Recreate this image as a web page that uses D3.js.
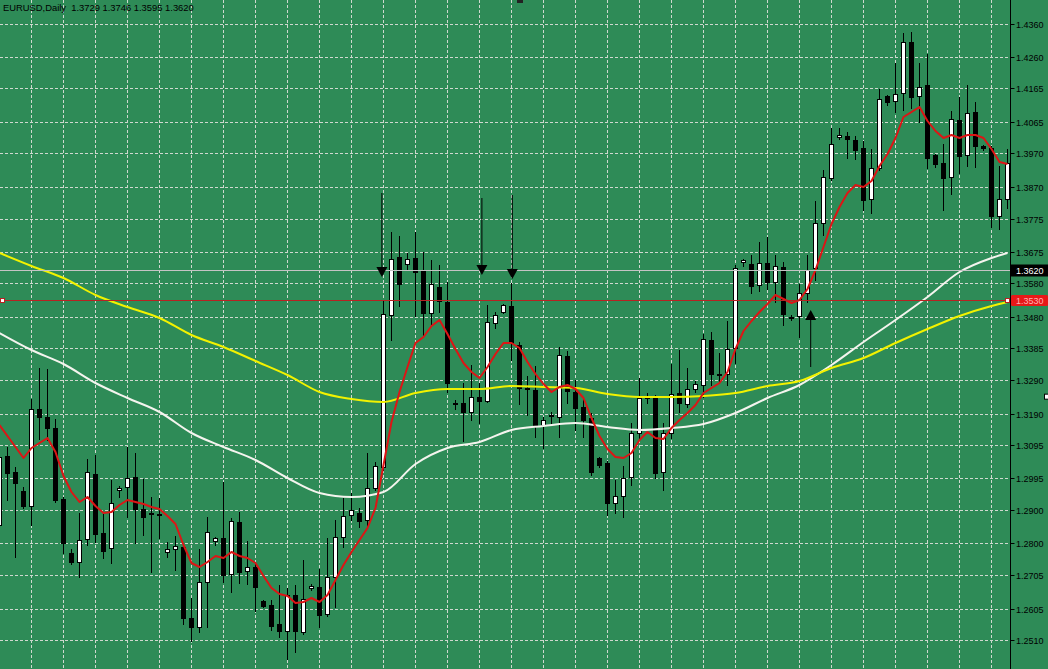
<!DOCTYPE html>
<html><head><meta charset="utf-8">
<script src="https://cdn.jsdelivr.net/npm/d3@7"></script>
<style>html,body{margin:0;padding:0;background:#2E8B57;overflow:hidden}</style>
</head><body><svg id="c" width="1048" height="669"></svg>
<script>
// ---- data ----
const title = "EURUSD,Daily  1.3729 1.3746 1.3595 1.3620";
const tickLabels = ["1.4360","1.4260","1.4165","1.4065","1.3970","1.3870","1.3775","1.3675","1.3580","1.3480",
  "1.3385","1.3290","1.3190","1.3095","1.2995","1.2900","1.2800","1.2705","1.2605","1.2510"];

const open = [1.2857,1.3064,1.3016,1.2959,1.2914,1.3205,1.3181,1.3148,1.2935,1.2773,
1.2746,1.2815,1.3010,1.2833,1.2788,1.2962,1.2971,1.3001,1.2905,1.2893,
1.2890,1.2776,1.2785,1.2791,1.2578,1.2551,1.2686,1.2809,1.2818,1.2710,
1.2866,1.2719,1.2731,1.2629,1.2617,1.2560,1.2539,1.2647,1.2536,1.2668,
1.2671,1.2590,1.2701,1.2821,1.2887,1.2893,1.2872,1.2968,1.3031,1.3487,
1.3661,1.3640,1.3658,1.3622,1.3493,1.3571,1.3526,1.3223,1.3223,1.3196,
1.3241,1.3229,1.3463,1.3496,1.3514,1.3397,1.3268,1.3262,1.3157,1.3184,
1.3181,1.3364,1.3256,1.3211,1.3178,1.3058,1.3043,1.2923,1.2944,1.3001,
1.3133,1.3241,1.3241,1.3016,1.3133,1.3253,1.3220,1.3265,1.3277,1.3412,
1.3310,1.3310,1.3388,1.3646,1.3640,1.3577,1.3643,1.3586,1.3631,1.3481,
1.3484,1.3553,1.3628,1.3763,1.3898,1.4021,1.4024,1.4012,1.3988,1.3835,
1.3928,1.4144,1.4129,1.4153,1.4306,1.4144,1.4177,1.3967,1.3943,1.3901,
1.4072,1.3967,1.4096,1.3994,1.3988,1.3784,1.3835];
const high = [1.3088,1.3091,1.3031,1.2971,1.3235,1.3328,1.3325,1.3175,1.2941,1.2785,
1.2893,1.3055,1.3067,1.2893,1.2992,1.2974,1.3091,1.3073,1.2995,1.2941,
1.2938,1.2806,1.2824,1.2797,1.2638,1.2785,1.2881,1.2821,1.2986,1.2878,
1.2896,1.2809,1.2746,1.2632,1.2632,1.2677,1.2668,1.2677,1.2752,1.2680,
1.2725,1.2818,1.2872,1.2938,1.2953,1.2908,1.3073,1.3046,1.3532,1.3736,
1.3724,1.3673,1.3736,1.3676,1.3652,1.3637,1.3586,1.3232,1.3283,1.3337,
1.3283,1.3517,1.3496,1.3520,1.3583,1.3406,1.3304,1.3334,1.3181,1.3196,
1.3391,1.3379,1.3292,1.3238,1.3193,1.3061,1.3049,1.2992,1.3034,1.3163,
1.3298,1.3253,1.3247,1.3163,1.3340,1.3382,1.3328,1.3289,1.3430,1.3436,
1.3373,1.3469,1.3637,1.3655,1.3667,1.3706,1.3721,1.3667,1.3646,1.3487,
1.3580,1.3667,1.3829,1.3922,1.4048,1.4048,1.4036,1.4024,1.4009,1.3985,
1.4165,1.4147,1.4243,1.4333,1.4336,1.4243,1.4270,1.3970,1.4000,1.4099,
1.4141,1.4177,1.4126,1.3997,1.3994,1.3934,1.3985];
const low = [1.2827,1.2932,1.2761,1.2908,1.2857,1.3115,1.3112,1.2926,1.2773,1.2740,
1.2701,1.2797,1.2806,1.2758,1.2743,1.2941,1.2881,1.2803,1.2827,1.2716,
1.2818,1.2761,1.2722,1.2560,1.2509,1.2536,1.2551,1.2797,1.2686,1.2656,
1.2683,1.2680,1.2599,1.2611,1.2542,1.2521,1.2455,1.2476,1.2530,1.2662,
1.2551,1.2584,1.2611,1.2791,1.2872,1.2851,1.2851,1.2962,1.3022,1.3412,
1.3514,1.3622,1.3484,1.3427,1.3457,1.3496,1.3256,1.3205,1.3109,1.3172,
1.3163,1.3226,1.3448,1.3493,1.3352,1.3220,1.3187,1.3121,1.3088,1.3163,
1.3121,1.3223,1.3142,1.3121,1.3007,1.3031,1.2887,1.2893,1.2881,1.2977,
1.3112,1.3223,1.2998,1.2962,1.3118,1.3196,1.3211,1.3256,1.3241,1.3277,
1.3283,1.3277,1.3343,1.3634,1.3553,1.3559,1.3565,1.3526,1.3457,1.3472,
1.3421,1.3526,1.3592,1.3727,1.3892,1.4015,1.3958,1.3955,1.3802,1.3793,
1.3922,1.4117,1.4096,1.4102,1.4108,1.4066,1.3928,1.3931,1.3802,1.3850,
1.3913,1.3934,1.3931,1.3982,1.3751,1.3745,1.3808];
const close = [1.3061,1.3013,1.2983,1.2914,1.3205,1.3181,1.3148,1.2932,1.2803,1.2746,
1.2812,1.3016,1.2830,1.2779,1.2923,1.2968,1.2998,1.2905,1.2881,1.2890,
1.2887,1.2785,1.2794,1.2578,1.2551,1.2686,1.2836,1.2818,1.2707,1.2869,
1.2716,1.2731,1.2671,1.2614,1.2554,1.2539,1.2647,1.2539,1.2635,1.2674,
1.2587,1.2701,1.2821,1.2884,1.2902,1.2869,1.2968,1.3034,1.3490,1.3655,
1.3580,1.3655,1.3616,1.3493,1.3580,1.3529,1.3283,1.3220,1.3196,1.3241,
1.3229,1.3466,1.3487,1.3517,1.3403,1.3268,1.3265,1.3157,1.3172,1.3187,
1.3367,1.3259,1.3208,1.3172,1.3016,1.3037,1.2923,1.2944,1.2998,1.3133,
1.3238,1.3238,1.3013,1.3133,1.3250,1.3223,1.3265,1.3280,1.3415,1.3310,
1.3307,1.3385,1.3628,1.3652,1.3574,1.3643,1.3586,1.3634,1.3490,1.3478,
1.3553,1.3622,1.3763,1.3901,1.4000,1.4027,1.4015,1.3982,1.3832,1.3928,
1.4135,1.4126,1.4150,1.4306,1.4141,1.4171,1.3958,1.3940,1.3898,1.4075,
1.3964,1.4093,1.3994,1.3988,1.3784,1.3835,1.3943];

const maRed = [1.3157,1.3124,1.3091,1.3058,1.3088,1.3103,1.3118,1.3076,1.3004,1.2956,
1.2926,1.2941,1.2914,1.2893,1.2896,1.2917,1.2932,1.2926,1.2920,1.2911,
1.2905,1.2884,1.2860,1.2797,1.2743,1.2731,1.2746,1.2764,1.2758,1.2776,
1.2764,1.2758,1.2743,1.2704,1.2668,1.2650,1.2644,1.2623,1.2626,1.2638,
1.2626,1.2647,1.2692,1.2737,1.2776,1.2812,1.2848,1.2908,1.3037,1.3166,
1.3256,1.3331,1.3403,1.3421,1.3454,1.3472,1.3430,1.3385,1.3343,1.3316,
1.3298,1.3331,1.3370,1.3403,1.3403,1.3388,1.3346,1.3310,1.3280,1.3256,
1.3271,1.3277,1.3265,1.3238,1.3178,1.3124,1.3085,1.3061,1.3058,1.3073,
1.3112,1.3136,1.3118,1.3115,1.3148,1.3172,1.3193,1.3217,1.3253,1.3268,
1.3283,1.3316,1.3385,1.3439,1.3469,1.3496,1.3520,1.3547,1.3535,1.3523,
1.3532,1.3565,1.3622,1.3691,1.3760,1.3811,1.3853,1.3877,1.3871,1.3889,
1.3934,1.3970,1.4018,1.4081,1.4096,1.4111,1.4069,1.4039,1.4018,1.4027,
1.4018,1.4027,1.4027,1.4018,1.3985,1.3946,1.3940];

// slow averages, read every 4th bar
const maBars = [0,4,8,12,16,20,24,28,32,36,40,44,48,52,56,60,64,68,72,76,80,84,88,92,96,100,104,108,112,116,120,124,126];
const maYellow = [1.3673,1.3634,1.3598,1.3547,1.3511,1.3478,1.3427,1.3391,1.3349,1.3307,1.3256,1.3235,1.3226,1.3253,1.3265,1.3265,1.3274,1.3271,1.3268,1.3250,1.3241,1.3241,1.3244,1.3253,1.3274,1.3289,1.3328,1.3358,1.3403,1.3445,1.3484,1.3514,1.3526];
const maWhite = [1.3433,1.3382,1.3340,1.3283,1.3238,1.3196,1.3133,1.3091,1.3052,1.2998,1.2953,1.2941,1.2956,1.3040,1.3088,1.3106,1.3142,1.3154,1.3163,1.3151,1.3142,1.3148,1.3160,1.3193,1.3238,1.3277,1.3337,1.3406,1.3472,1.3541,1.3616,1.3658,1.3673];

const downArrowBars = [47.8, 60.3, 64.1];
const downArrowTips = [1.3601, 1.3607, 1.3595];
const downArrowTops = [1.3853, 1.3838, 1.3847];
const upArrowBars = [101.4];
const upArrowTips = [1.3502];
const upArrowTails = [1.3331];

const bidPrice = 1.3620, bidLabel = "1.3620";
const hLinePrice = 1.3530, hLineLabel = "1.3530";

// ---- drawing ----
const W = 1048, H = 669, axisX = 1010.5;
const svg = d3.select("#c");
const x = d3.scaleLinear().domain([0, 126]).range([-0.5, 1007.5]);
const y = d3.scaleLinear().domain([1.4432, 1.2425]).range([0, 669]);
const snap = v => Math.floor(v) + 0.5;
const font = "'Liberation Sans', Arial, sans-serif";

svg.append("rect").attr("width", W).attr("height", H).attr("fill", "#2E8B57");

// grid
const g = svg.append("g").attr("stroke", "#cfd8cf").attr("stroke-width", 1).attr("stroke-dasharray", "3,2");
tickLabels.forEach(t => {
  const yy = snap(y(+t));
  g.append("line").attr("x1", 0).attr("x2", 1010).attr("y1", yy).attr("y2", yy);
});
d3.range(4, 127, 4).forEach(i => {
  g.append("line").attr("x1", x(i)).attr("x2", x(i)).attr("y1", 0).attr("y2", H);
});

// candles
const idx = d3.range(open.length);
const cg = svg.append("g");
idx.forEach(i => {
  const cx = x(i);
  cg.append("line").attr("x1", cx).attr("x2", cx)
    .attr("y1", Math.round(y(high[i]))).attr("y2", Math.round(y(low[i])) + 1)
    .attr("stroke", "#000").attr("stroke-width", 1);
  const top = Math.round(y(Math.max(open[i], close[i])));
  const bot = Math.round(y(Math.min(open[i], close[i])));
  const bull = close[i] >= open[i];
  cg.append("rect").attr("x", cx - 2).attr("width", 4)
    .attr("y", top + 0.5).attr("height", Math.max(0, bot - top))
    .attr("fill", bull ? "#fff" : "#000").attr("stroke", "#000").attr("stroke-width", 1);
});

// moving averages
const lineIdx = d3.line().x((v, i) => x(i)).y(v => y(v));
const lineSampled = d3.line().x((v, k) => x(maBars[k])).y(v => y(v)).curve(d3.curveMonotoneX);
svg.append("path").attr("d", lineSampled(maWhite)).attr("fill", "none").attr("stroke", "#f4f4ee").attr("stroke-width", 2);
svg.append("path").attr("d", lineSampled(maYellow)).attr("fill", "none").attr("stroke", "#f2f200").attr("stroke-width", 2);
svg.append("path").attr("d", lineIdx(maRed)).attr("fill", "none").attr("stroke", "#dd1515").attr("stroke-width", 2)
  .attr("stroke-linejoin", "round");

// horizontal lines
const yb = snap(y(bidPrice));
svg.append("line").attr("x1", 0).attr("x2", 1010).attr("y1", yb).attr("y2", yb).attr("stroke", "#c4c4c4").attr("stroke-width", 1);
const yh = snap(y(hLinePrice));
svg.append("line").attr("x1", 0).attr("x2", 1010).attr("y1", yh).attr("y2", yh).attr("stroke", "#b82222").attr("stroke-width", 1);
// selection markers
[[0.5, yh], [1005.5, yh]].forEach(p => {
  svg.append("rect").attr("x", p[0]).attr("y", p[1] - 2).attr("width", 4).attr("height", 4)
    .attr("fill", "#fff").attr("stroke", "#b82222").attr("stroke-width", 1);
});
svg.append("rect").attr("x", 1044.5).attr("y", y(1.3242) - 2.5).attr("width", 5).attr("height", 5)
  .attr("fill", "#fff").attr("stroke", "#000").attr("stroke-width", 1);

// arrows
downArrowBars.forEach((b, k) => {
  const cx = x(b), yt = y(downArrowTips[k]);
  svg.append("line").attr("x1", cx).attr("x2", cx).attr("y1", y(downArrowTops[k])).attr("y2", yt - 9)
    .attr("stroke", "#000").attr("stroke-width", 1);
  svg.append("path").attr("d", `M${cx - 5.5},${yt - 10}L${cx + 5.5},${yt - 10}L${cx},${yt}Z`).attr("fill", "#000");
});
upArrowBars.forEach((b, k) => {
  const cx = x(b), yt = y(upArrowTips[k]);
  svg.append("line").attr("x1", cx).attr("x2", cx).attr("y1", yt + 9).attr("y2", y(upArrowTails[k]))
    .attr("stroke", "#000").attr("stroke-width", 1);
  svg.append("path").attr("d", `M${cx - 5.5},${yt + 10}L${cx + 5.5},${yt + 10}L${cx},${yt}Z`).attr("fill", "#000");
});

// chart-shift marker
svg.append("rect").attr("x", 517).attr("y", 0).attr("width", 6).attr("height", 3).attr("fill", "#222");

// right axis
svg.append("line").attr("x1", axisX).attr("x2", axisX).attr("y1", 0).attr("y2", H).attr("stroke", "#000");
tickLabels.forEach(t => {
  const yy = snap(y(+t));
  svg.append("line").attr("x1", axisX).attr("x2", axisX + 4).attr("y1", yy).attr("y2", yy).attr("stroke", "#000");
  svg.append("text").attr("x", 1016).attr("y", yy + 3.5).text(t)
    .attr("font-family", font).attr("font-size", 9).attr("fill", "#000");
});
// price labels
svg.append("rect").attr("x", 1011).attr("y", yb - 6).attr("width", 37).attr("height", 12).attr("fill", "#000");
svg.append("text").attr("x", 1016).attr("y", yb + 3.5).text(bidLabel)
  .attr("font-family", font).attr("font-size", 9).attr("fill", "#fff");
svg.append("rect").attr("x", 1011).attr("y", yh - 5.5).attr("width", 37).attr("height", 11).attr("rx", 1.5).attr("fill", "#e81818");
svg.append("text").attr("x", 1016).attr("y", yh + 3.5).text(hLineLabel)
  .attr("font-family", font).attr("font-size", 9).attr("fill", "#ffb4b4");

// title
svg.append("text").attr("x", 3).attr("y", 10.5).text(title).style("white-space", "pre")
  .attr("font-family", font).attr("font-size", 9.4).attr("fill", "#000");
</script></body></html>
